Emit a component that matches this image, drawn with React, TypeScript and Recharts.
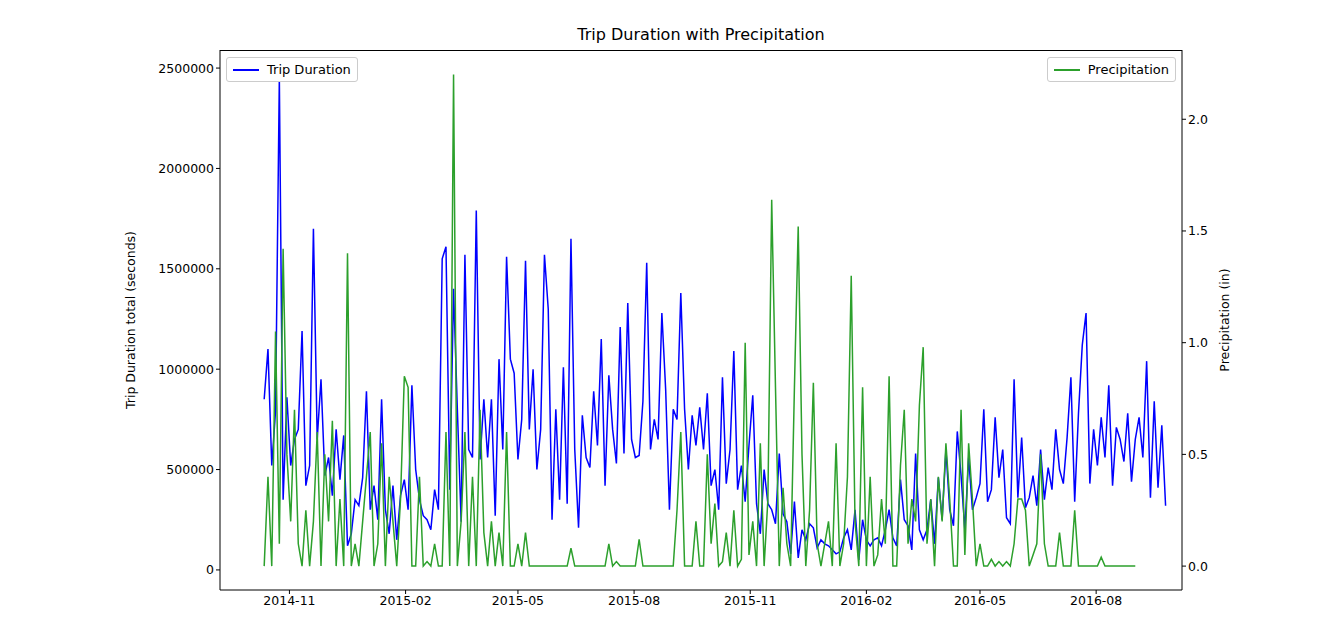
import { ComposedChart, Line, XAxis, YAxis } from "recharts";

// observation dates: every 3 days starting 2014-10-12
const START = Date.UTC(2014, 9, 12);
const STEP_DAYS = 3;

// trip duration totals, thousands of seconds
const durationK = [
  850, 1100, 520, 790, 2450, 350, 860,
  520, 650, 700, 1190, 420, 520, 1700, 650, 950, 470,
  560, 370, 700, 450, 670, 120, 180, 350, 320, 460,
  890, 300, 420, 250, 850, 300, 180, 420, 150, 370,
  450, 300, 920, 500, 350, 270, 250, 200, 400, 300,
  1550, 1610, 400, 1400, 800, 240, 1570, 600, 560, 1790,
  550, 850, 560, 850, 270, 1050, 600, 1560, 1050, 980,
  550, 750, 1540, 700, 1000, 500, 700, 1570, 1300, 250,
  800, 350, 1010, 330, 1650, 600, 210, 770, 560, 510,
  890, 620, 1150, 420, 970, 700, 530, 1210, 580, 1330,
  650, 560, 570, 840, 1530, 600, 750, 650, 1280, 900,
  300, 800, 750, 1380, 800, 500, 770, 620, 810, 600,
  880, 420, 500, 300, 960, 430, 600, 1090, 400, 520,
  340, 620, 870, 330, 180, 500, 330, 300, 230, 580,
  280, 240, 80, 340, 60, 200, 150, 230, 210, 110,
  150, 130, 120, 100, 80, 90, 160, 200, 100, 300,
  50, 250, 150, 120, 150, 160, 120, 200, 300, 160,
  120, 450, 250, 220, 100, 580, 200, 150, 200, 350,
  130, 460, 250, 600, 300, 220, 690, 470, 200, 560,
  300, 360, 430, 800, 340, 400, 760, 460, 600, 260,
  230, 950, 360, 660, 310, 360, 470, 320, 600, 350,
  510, 400, 700, 500, 430, 660, 960, 340, 780, 1120,
  1280, 430, 700, 520, 760, 560, 920, 420, 710, 650,
  540, 780, 440, 650, 760, 560, 1040, 360, 840, 410,
  720, 320,
];

// precipitation, inches
const precip = [
  0, 0.4, 0, 1.05, 0.1, 1.42, 0.5,
  0.2, 0.7, 0.1, 0, 0.25, 0, 0.2, 0.6, 0, 0.5,
  0.2, 0.65, 0, 0.3, 0, 1.4, 0, 0.1, 0, 0.2,
  0.4, 0.6, 0, 0.1, 0.55, 0, 0.4, 0.2, 0, 0.3,
  0.85, 0.8, 0, 0, 0.4, 0, 0.02, 0, 0.1, 0,
  0, 0.6, 0, 2.2, 0, 0.2, 0.6, 0, 0.4, 0,
  0.7, 0.15, 0, 0.2, 0, 0.15, 0, 0.6, 0, 0,
  0.1, 0, 0.15, 0, 0, 0, 0, 0, 0, 0,
  0, 0, 0, 0, 0.08, 0, 0, 0, 0, 0,
  0, 0, 0, 0, 0.1, 0, 0.02, 0, 0, 0,
  0, 0, 0.12, 0, 0, 0, 0, 0, 0, 0,
  0, 0, 0.25, 0.6, 0, 0, 0, 0.2, 0, 0,
  0.5, 0.1, 0.28, 0, 0.02, 0.15, 0, 0.25, 0, 0.03,
  1.0, 0.05, 0.2, 0, 0.55, 0, 0.3, 1.64, 0.8, 0,
  0.35, 0.1, 0, 0.8, 1.52, 0.5, 0, 0.25, 0.82, 0.1,
  0, 0.1, 0.2, 0, 0.55, 0, 0.1, 0.4, 1.3, 0.2,
  0, 0.8, 0, 0.4, 0, 0.05, 0.3, 0.1, 0.85, 0,
  0, 0.45, 0.7, 0.1, 0.3, 0.2, 0.72, 0.98, 0.1, 0.3,
  0, 0.4, 0.2, 0.55, 0.3, 0, 0, 0.7, 0.05, 0.55,
  0.3, 0, 0.1, 0, 0, 0.03, 0, 0.02, 0, 0.02,
  0, 0.1, 0.3, 0.3, 0.25, 0, 0.05, 0.1, 0.5, 0.1,
  0, 0, 0, 0.15, 0, 0, 0, 0.25, 0, 0,
  0, 0, 0, 0, 0.04, 0, 0, 0, 0, 0,
  0, 0, 0, 0,
];

const xTicks = [
  Date.UTC(2014, 10, 1), Date.UTC(2015, 1, 1), Date.UTC(2015, 4, 1),
  Date.UTC(2015, 7, 1), Date.UTC(2015, 10, 1), Date.UTC(2016, 1, 1),
  Date.UTC(2016, 4, 1), Date.UTC(2016, 7, 1),
];
const leftTicks = [0, 500000, 1000000, 1500000, 2000000, 2500000];
const rightTicks = [0, 0.5, 1, 1.5, 2];

const data = durationK.map((d, i) => ({
  t: START + i * STEP_DAYS * 86400000,
  dur: d * 1000,
  p: precip[i],
}));

const fmtMonth = (v: number) => {
  const d = new Date(v);
  return `${d.getUTCFullYear()}-${String(d.getUTCMonth() + 1).padStart(2, "0")}`;
};

const FONT = "DejaVu Sans, sans-serif";
const tick = { fill: "#000", fontSize: 12.5, fontFamily: FONT };

const legendBox: React.CSSProperties = {
  position: "absolute",
  background: "#fff",
  border: "1px solid #ccc",
  borderRadius: 3,
  fontSize: 13,
  fontFamily: FONT,
  padding: "4px 6px",
  display: "flex",
  alignItems: "center",
  gap: 8,
};

export default function App() {
  return (
    <div style={{ position: "relative", width: 1319, height: 643, margin: -8, background: "#fff" }}>
      <div style={{ position: "absolute", top: 25, left: 220, width: 962, textAlign: "center", fontFamily: FONT, fontSize: 16 }}>
        Trip Duration with Precipitation
      </div>
      <ComposedChart width={1319} height={643} data={data} margin={{ top: 50, right: 0, bottom: 0, left: 0 }}>
        <XAxis
          dataKey="t"
          type="number"
          domain={[Date.UTC(2014, 8, 7), Date.UTC(2016, 9, 8)]}
          ticks={xTicks}
          tickFormatter={fmtMonth}
          tick={tick}
          stroke="#000"
          height={53}
          tickSize={4}
        />
        <YAxis
          yAxisId="l"
          width={220}
          domain={[-100000, 2590000]}
          ticks={leftTicks}
          tick={tick}
          stroke="#000"
          tickSize={4}
          allowDataOverflow
          label={{ value: "Trip Duration total (seconds)", angle: -90, position: "insideLeft", offset: 131, style: { fontSize: 12.5, fontFamily: FONT, fill: "#000", textAnchor: "middle" } }}
        />
        <YAxis
          yAxisId="r"
          orientation="right"
          width={137}
          domain={[-0.107, 2.31]}
          ticks={rightTicks}
          tickFormatter={(v: number) => v.toFixed(1)}
          tick={tick}
          stroke="#000"
          tickSize={4}
          allowDataOverflow
          label={{ value: "Precipitation (in)", angle: -90, position: "insideRight", offset: 94, style: { fontSize: 12.5, fontFamily: FONT, fill: "#000", textAnchor: "middle" } }}
        />
        <Line yAxisId="l" dataKey="dur" stroke="#0000ff" strokeWidth={1.5} dot={false} isAnimationActive={false} />
        <Line yAxisId="r" dataKey="p" stroke="#2ca02c" strokeWidth={1.5} dot={false} isAnimationActive={false} />
      </ComposedChart>
      <div style={{ position: "absolute", left: 220, top: 50, width: 962, height: 540, borderTop: "1px solid #000", boxSizing: "border-box", pointerEvents: "none" }} />
      <div style={{ ...legendBox, left: 226, top: 57 }}>
        <span style={{ width: 26, height: 2, background: "#0000ff", display: "inline-block" }} />
        Trip Duration
      </div>
      <div style={{ ...legendBox, right: 143, top: 57 }}>
        <span style={{ width: 26, height: 2, background: "#2ca02c", display: "inline-block" }} />
        Precipitation
      </div>
    </div>
  );
}
